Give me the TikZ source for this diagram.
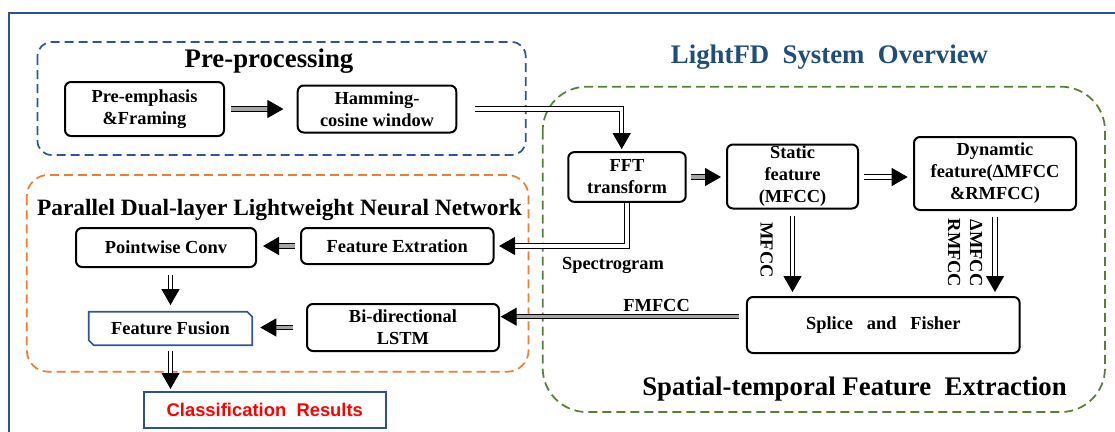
\documentclass[tikz,border=0pt]{standalone}
\usepackage{fontspec}
\setmainfont{Liberation Serif}
\setsansfont{Liberation Sans}
\usetikzlibrary{arrows.meta,calc}

\definecolor{frameblue}{RGB}{47,82,143}
\definecolor{groupblue}{RGB}{47,85,151}
\definecolor{groupgreen}{RGB}{84,130,53}
\definecolor{grouporange}{RGB}{237,125,49}
\definecolor{titleblue}{RGB}{31,78,121}
\definecolor{resultred}{RGB}{255,0,0}

\newcommand\boxfont{\fontsize{13.8pt}{16.5pt}\selectfont\bfseries}
\newcommand\bigtitle{\fontsize{20.1pt}{24pt}\selectfont\bfseries}
\newcommand\midtitle{\fontsize{17.55pt}{21pt}\selectfont\bfseries}

\begin{document}
\begin{tikzpicture}[x=0.75pt,y=-0.75pt,
  box/.style={draw=black, line width=1.5pt, rounded corners=4.5pt, align=center,
    inner sep=0pt, font=\boxfont},
  group/.style={dashed, dash pattern=on 6.75pt off 3.75pt, line width=1.3pt},
  lbl/.style={inner sep=0pt, font=\boxfont, align=center},
  arr/.style={line width=0.85pt, double=white, double distance=2.4pt,
    -{Triangle[length=12pt,width=13.5pt]}},
  garr/.style={arr, double=gray!70},
]
\useasboundingbox (0,0) rectangle (1115,432);

% outer frame
\draw[frameblue, line width=1.5pt] (9,432) -- (9,12.7) -- (1115,12.7);

% group outlines
\draw[group, groupblue, rounded corners=10.5pt] (37.5,42) rectangle (525.7,155);
\draw[group, grouporange, rounded corners=16pt] (26.8,175) rectangle (528.6,371.7);
\draw[group, groupgreen, rounded corners=33pt] (542.7,86.7) rectangle (1105,412);

% group titles
\node[anchor=base, inner sep=0pt, font=\bigtitle] (tpre) at (269,67) {Pre-processing};
\node[anchor=base, inner sep=0pt, font=\bigtitle, text=titleblue] (tsys) at (829.5,63)
  {LightFD\hspace{0.5em}System\hspace{0.5em}Overview};
\node[anchor=base, inner sep=0pt, font=\midtitle] (tnet) at (279.5,215)
  {Parallel Dual-layer Lightweight Neural Network};
\node[anchor=base, inner sep=0pt, font=\bigtitle] (tste) at (854.5,395)
  {Spatial-temporal Feature\hspace{0.5em}Extraction};

% processing blocks
\node[box, minimum width=119.25pt, minimum height=40.5pt] (pre) at (144.5,109) {Pre-emphasis\\\&Framing};
\node[box, minimum width=118.9pt, minimum height=35.25pt] (ham) at (377,109) {Hamming-\\cosine window};
\node[box, minimum width=88.1pt, minimum height=37.3pt] (fft) at (627,177) {FFT\\transform};
\node[box, minimum width=98.25pt, minimum height=48pt] (sta) at (792.5,176.5) {Static\\feature\\(MFCC)};
\node[box, minimum width=121.5pt, minimum height=54.75pt] (dyn) at (995,173.5) {Dynamtic\\feature(ΔMFCC\\\&RMFCC)};
\node[box, minimum width=204.5pt, minimum height=42pt] (spl) at (883.3,325) {Splice\hspace{0.75em}and\hspace{0.75em}Fisher};
\node[box, minimum width=135pt, minimum height=29.25pt] (pc) at (166,247.5) {Pointwise Conv};
\node[box, minimum width=144.4pt, minimum height=27pt] (fe) at (397.3,246) {Feature Extration};
\node[box, minimum width=144pt, minimum height=35.25pt] (lstm) at (403,327.5) {Bi-directional\\LSTM};
\node[inner sep=0pt, minimum width=122.25pt, minimum height=24.75pt, font=\boxfont] (ff) at (170.5,328.5) {Feature Fusion};
\draw[groupblue, line width=1.2pt]
  (ff.north west) -- ($(ff.north east)+(-5,0)$) -- ($(ff.north east)+(0,5)$)
  -- (ff.south east) -- ($(ff.south west)+(5,0)$) -- ($(ff.south west)+(0,-5)$) -- cycle;
\node[draw=frameblue, line width=1.5pt, inner sep=0pt, minimum width=181.3pt, minimum height=27pt,
  font=\fontsize{13.8pt}{16.5pt}\selectfont\sffamily\bfseries, text=resultred] (cls) at (264.8,410)
  {Classification\hspace{0.556em}Results};

% connector labels
\node[lbl] (spg) at (613,265) {Spectrogram};
\node[lbl] (fml) at (656.6,305) {FMFCC};
\node[lbl, rotate=-90] (mfl) at (766.6,250) {MFCC};
\node[lbl, rotate=-90] (dml) at (965,253) {ΔMFCC\\RMFCC};

% helper points for bends
\coordinate (hf) at (621.7,109);
\coordinate (fmA) at ($(spl.west)+(0,-8.3)$);

% connectors
\draw[garr, shorten <=4.5pt, shorten >=10pt] (pre) -- (ham);
\draw[arr, shorten <=13.5pt, shorten >=1.5pt] (ham.east) -- (hf) -- (hf |- fft.north);
\draw[garr, shorten <=3pt, shorten >=3.75pt] (fft.east) -- (fft.east -| sta.west);
\draw[arr, shorten <=4pt, shorten >=4pt] (sta.east |- fft.east) -- (fft.east -| dyn.west);
\draw[arr, shorten >=3.4pt] (fft.south) -- (fft.south |- fe.east) -- (fe.east);
\draw[arr, shorten <=5pt, shorten >=3pt] (sta.south) -- (sta.south |- spl.north);
\draw[arr, shorten <=4.5pt, shorten >=3pt] (dyn.south) -- (dyn.south |- spl.north);
\draw[garr, shorten <=5pt, shorten >=0.5pt] (fmA) -- (fmA -| lstm.east);
\draw[garr, shorten <=3.75pt, shorten >=4.5pt] (fe.west) -- (fe.west -| pc.east);
\draw[garr, shorten <=9.75pt, shorten >=6pt] (lstm.west) -- (lstm.west -| ff.east);
\draw[arr, shorten <=5pt, shorten >=5pt] (ff.north |- pc.south) -- (ff.north);
\draw[arr, shorten <=4.3pt, shorten >=1.5pt] (ff.south) -- (ff.south |- cls.north);
\end{tikzpicture}
\end{document}
